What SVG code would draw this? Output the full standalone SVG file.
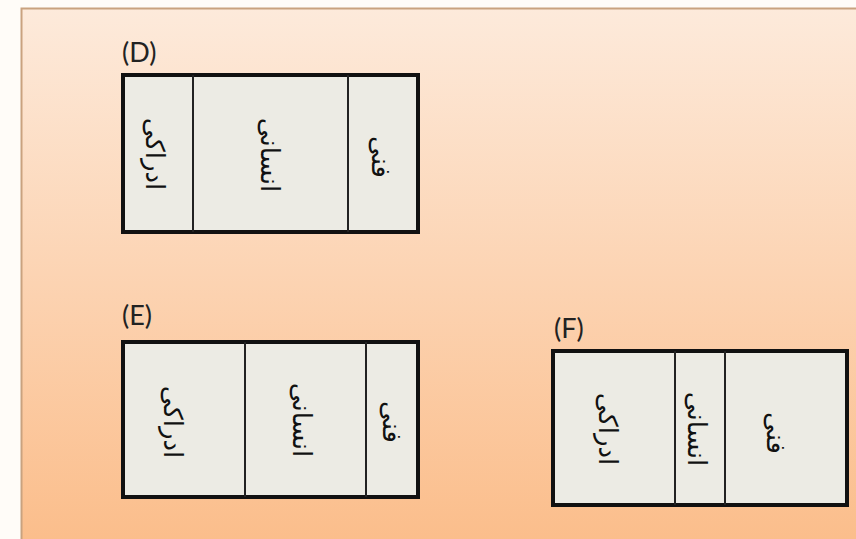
<svg xmlns="http://www.w3.org/2000/svg" width="856" height="539" viewBox="0 0 856 539">
<defs>
<linearGradient id="bg" x1="0" y1="0" x2="0" y2="1">
<stop offset="0" stop-color="#fdeadb"/>
<stop offset="1" stop-color="#fbbd8a"/>
</linearGradient>
<style>
.box{fill:#ecebe4;stroke:#111;stroke-width:4}
.div{stroke:#222;stroke-width:2}
.lbl{font-family:Lato,"Open Sans","Liberation Sans",sans-serif;font-size:27px;fill:#222}
.fa{font-family:"DejaVu Sans",sans-serif;font-size:26px;fill:#111;text-anchor:middle;dominant-baseline:central}
</style>
</defs>
<rect x="0" y="0" width="856" height="539" fill="#fffcf8"/>
<rect x="21.5" y="8.5" width="840" height="540" fill="url(#bg)" stroke="#c9a27f" stroke-width="2"/>
<g id="D">
<text class="lbl" x="122" y="62">(D)</text>
<rect class="box" x="123" y="75" width="295" height="157"/>
<line class="div" x1="193" y1="75" x2="193" y2="232"/>
<line class="div" x1="348" y1="75" x2="348" y2="232"/>
<text class="fa" transform="translate(155,154) rotate(90)">ادراکی</text>
<text class="fa" transform="translate(270,155) rotate(90)">انسانی</text>
<text class="fa" transform="translate(381,157) rotate(90)">فنی</text>
</g>
<g id="E">
<text class="lbl" x="122" y="325">(E)</text>
<rect class="box" x="123" y="342" width="295" height="155"/>
<line class="div" x1="245" y1="342" x2="245" y2="497"/>
<line class="div" x1="366" y1="342" x2="366" y2="497"/>
<text class="fa" transform="translate(173,422) rotate(90)">ادراکی</text>
<text class="fa" transform="translate(302,420) rotate(90)">انسانی</text>
<text class="fa" transform="translate(392,422) rotate(90)">فنی</text>
</g>
<g id="F">
<text class="lbl" x="554" y="338">(F)</text>
<rect class="box" x="553" y="351" width="294" height="154"/>
<line class="div" x1="675" y1="351" x2="675" y2="505"/>
<line class="div" x1="725" y1="351" x2="725" y2="505"/>
<text class="fa" transform="translate(608,429) rotate(90)">ادراکی</text>
<text class="fa" transform="translate(697,429) rotate(90)">انسانی</text>
<text class="fa" transform="translate(776,433) rotate(90)">فنی</text>
</g>
<g id="connectors"/>
</svg>
